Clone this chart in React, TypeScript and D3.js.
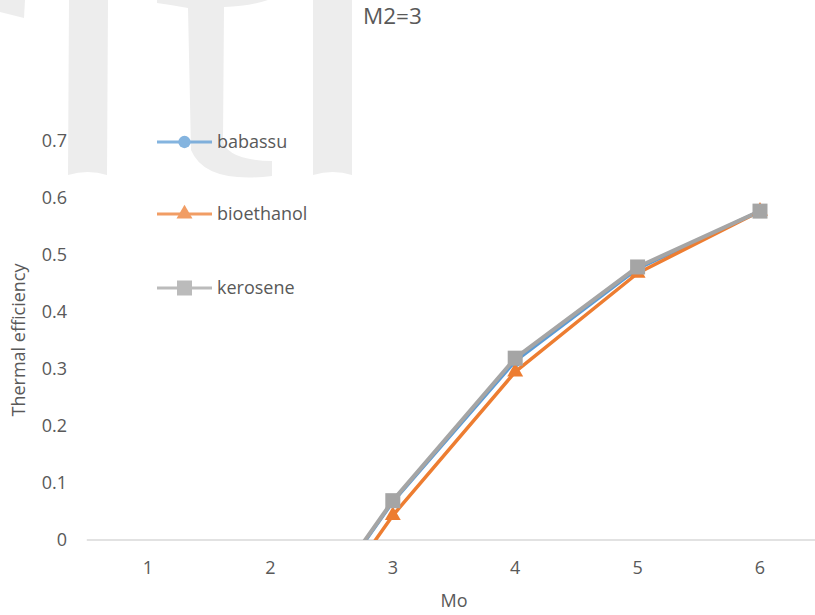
import React from "react";
import * as d3 from "d3";

// Mach number categories (flight Mach, Mo)
const moValues = [1, 2, 3, 4, 5, 6];
// Points with data for each fuel (values below 0 are clipped by the plot area)
const seriesMo = [2, 3, 4, 5, 6];
const babassu = [-0.238, 0.067, 0.314, 0.476, 0.577];
const bioethanol = [-0.261, 0.043, 0.295, 0.468, 0.577];
const kerosene = [-0.236, 0.069, 0.319, 0.479, 0.577];
const yTicks = [0, 0.1, 0.2, 0.3, 0.4, 0.5, 0.6, 0.7];
const seriesNames = ["babassu", "bioethanol", "kerosene"];
const seriesColors = ["#5b9bd5", "#ed7d31", "#a5a5a5"];
const chartTitle = "M2=3";
const xTitle = "Mo";
const yTitle = "Thermal efficiency";

const W = 815;
const H = 615;
const plotLeft = 86.8;
const plotRight = 821.2;
const plotBottom = 540;
const font = "'Open Sans', 'Liberation Sans', sans-serif";
const textColor = "#595959";

export default function App() {
  const x = d3
    .scaleBand<number>()
    .domain(moValues)
    .range([plotLeft, plotRight]);
  const y = d3.scaleLinear().domain([0, 0.7]).range([plotBottom, 141]);
  const cx = (m: number) => (x(m) as number) + x.bandwidth() / 2;

  const allSeries = [babassu, bioethanol, kerosene];
  const line = d3
    .line<number>()
    .x((_, i) => cx(seriesMo[i]))
    .y((v) => y(v));

  const symbols = [d3.symbolCircle, d3.symbolTriangle, d3.symbolSquare];
  const symbolSizes = [120, 110, 225];

  const marker = (k: number, px: number, py: number, key: string) => {
    const p = d3.symbol().type(symbols[k]).size(symbolSizes[k])();
    return (
      <path
        key={key}
        d={p as string}
        transform={`translate(${px},${py})`}
        fill={seriesColors[k]}
      />
    );
  };

  return (
    <svg
      width={W}
      height={H}
      style={{ position: "absolute", left: 0, top: 0, background: "#fff" }}
      fontFamily={font}
    >
      <defs>
        <clipPath id="plotClip">
          <rect x={plotLeft} y={0} width={plotRight - plotLeft} height={plotBottom} />
        </clipPath>
      </defs>

      {/* faint background lettering */}
      <g fill="#ededed">
        <path d="M0,0 L25,0 L24,18 L0,12 Z" />
        <path d="M69,0 L108,0 L107,175 Q88,169 68,175 Z" />
        <path d="M157,0 L268,0 Q250,6 224,7 L223,140 Q226,160 272,161 L272,176 Q205,184 191,150 L188,8 Q172,5 157,3 Z" />
        <path d="M313,0 L352,0 L352,175 Q333,169 313,175 Z" />
      </g>

      {/* title */}
      <text x={363} y={24} fontSize={22.5} fill={textColor}>
        {chartTitle}
      </text>

      {/* y tick labels */}
      {yTicks.map((t) => (
        <text
          key={t}
          x={67}
          y={y(t)}
          dy="0.35em"
          textAnchor="end"
          fontSize={18}
          fill={textColor}
        >
          {t === 0 ? "0" : d3.format(".1f")(t)}
        </text>
      ))}

      {/* x axis */}
      <line
        x1={plotLeft}
        x2={plotRight}
        y1={plotBottom}
        y2={plotBottom}
        stroke="#d9d9d9"
        strokeWidth={1.5}
      />
      {moValues.map((m) => (
        <text
          key={m}
          x={cx(m)}
          y={568}
          dy="0.35em"
          textAnchor="middle"
          fontSize={18}
          fill={textColor}
        >
          {m}
        </text>
      ))}

      {/* axis titles */}
      <text
        x={454}
        y={601}
        dy="0.35em"
        textAnchor="middle"
        fontSize={18}
        fill={textColor}
      >
        {xTitle}
      </text>
      <text
        transform={`translate(19,340) rotate(-90)`}
        textAnchor="middle"
        dy="0.35em"
        fontSize={18}
        fill={textColor}
      >
        {yTitle}
      </text>

      {/* series lines */}
      <g clipPath="url(#plotClip)">
        {allSeries.map((s, k) => (
          <path
            key={seriesNames[k]}
            d={line(s) as string}
            fill="none"
            stroke={seriesColors[k]}
            strokeWidth={k === 2 ? 4 : 3.5}
            strokeLinejoin="round"
          />
        ))}
      </g>
      {/* markers (only those inside the plot) */}
      {allSeries.map((s, k) => (
        <g key={`m-${seriesNames[k]}`}>
          {s.map((v, i) =>
            v >= 0 ? marker(k, cx(seriesMo[i]), y(v), `${k}-${i}`) : null
          )}
        </g>
      ))}

      {/* legend */}
      <g opacity={0.75}>
        {seriesNames.map((name, k) => {
          const ly = [142, 214, 288][k];
          return (
            <g key={name}>
              <line
                x1={157}
                x2={212}
                y1={ly}
                y2={ly}
                stroke={seriesColors[k]}
                strokeWidth={3}
              />
              {marker(k, 184.5, ly, `lg-${k}`)}
            </g>
          );
        })}
      </g>
      {seriesNames.map((name, k) => (
        <text
          key={`lt-${name}`}
          x={217}
          y={[142, 214, 288][k]}
          dy="0.35em"
          fontSize={18}
          fill={textColor}
        >
          {name}
        </text>
      ))}
    </svg>
  );
}
